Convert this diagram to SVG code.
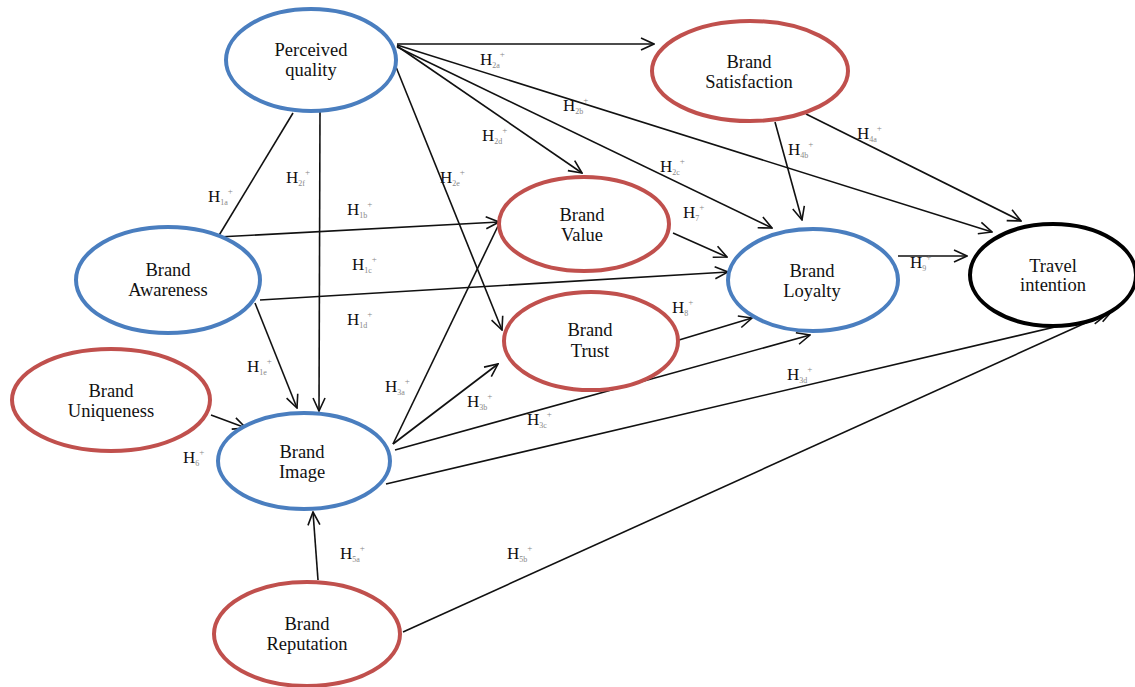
<svg xmlns="http://www.w3.org/2000/svg" width="1135" height="687" viewBox="0 0 1135 687">
<style>
.blue{fill:#fff;stroke:#4a7ebf;stroke-width:4}
.red{fill:#fff;stroke:#c0504d;stroke-width:4}
.black{fill:#fff;stroke:#000;stroke-width:4}
.t{font-family:"Liberation Serif","Times New Roman",serif;font-size:18.5px;fill:#111;text-anchor:middle}
.c line{stroke:#111;stroke-width:1.6;fill:none}
.a{marker-end:url(#arr)}
.h{font-family:"Liberation Serif","Times New Roman",serif;font-size:17px;fill:#111}
.sub{font-size:8px;fill:#888}
.sup{font-size:9px;fill:#888}
</style>
<defs>
<marker id="arr" markerUnits="userSpaceOnUse" markerWidth="16" markerHeight="16" viewBox="-15 -8 16 16" refX="0" refY="0" orient="auto">
<path d="M-13,-6 L0,0 L-13,6" fill="none" stroke="#111" stroke-width="1.6"/>
</marker>
</defs>
<rect width="1135" height="687" fill="#fff"/>
<g class="c">
<line class="a" x1="397" y1="44" x2="654" y2="44"/>
<line class="a" x1="397" y1="45" x2="992" y2="232"/>
<line class="a" x1="397" y1="46" x2="582" y2="173"/>
<line class="a" x1="397" y1="47" x2="772" y2="228"/>
<line class="a" x1="394" y1="62" x2="502" y2="330"/>
<line class="a" x1="320" y1="112" x2="319" y2="411"/>
<line x1="293" y1="113" x2="218" y2="237"/>
<line class="a" x1="218" y1="237" x2="499" y2="222"/>
<line class="a" x1="260" y1="300" x2="728" y2="272"/>
<line class="a" x1="255" y1="303" x2="297" y2="408"/>
<line class="a" x1="211" y1="415" x2="246" y2="428"/>
<line x1="393" y1="444" x2="498" y2="226"/>
<line class="a" x1="393" y1="444" x2="498" y2="364"/>
<line class="a" x1="395" y1="450" x2="810" y2="335"/>
<line class="a" x1="386" y1="484" x2="1106" y2="315"/>
<line class="a" x1="403" y1="632" x2="1112" y2="311"/>
<line class="a" x1="673" y1="233" x2="727" y2="257"/>
<line class="a" x1="679" y1="340" x2="752" y2="318"/>
<line class="a" x1="775" y1="122" x2="802" y2="220"/>
<line class="a" x1="806" y1="114" x2="1021" y2="221"/>
<line class="a" x1="898" y1="256" x2="967" y2="256"/>
<line class="a" x1="318" y1="580" x2="313" y2="512"/>
</g>
<g id="perceived-quality"><ellipse class="blue" cx="311" cy="60" rx="85" ry="51"/><text class="t" x="311" y="56">Perceived</text><text class="t" x="311" y="76">quality</text></g>
<g id="brand-satisfaction"><ellipse class="red" cx="750" cy="71" rx="98" ry="50"/><text class="t" x="749" y="68">Brand</text><text class="t" x="749" y="88">Satisfaction</text></g>
<g id="brand-value"><ellipse class="red" cx="584" cy="224" rx="85" ry="47"/><text class="t" x="582" y="221">Brand</text><text class="t" x="582" y="241">Value</text></g>
<g id="brand-loyalty"><ellipse class="blue" cx="813" cy="280" rx="85" ry="51"/><text class="t" x="812" y="277">Brand</text><text class="t" x="812" y="297">Loyalty</text></g>
<g id="travel-intention"><ellipse class="black" cx="1053" cy="275" rx="83" ry="51"/><text class="t" x="1053" y="272">Travel</text><text class="t" x="1053" y="291">intention</text></g>
<g id="brand-awareness"><ellipse class="blue" cx="168" cy="280" rx="92" ry="53"/><text class="t" x="168" y="276">Brand</text><text class="t" x="168" y="296">Awareness</text></g>
<g id="brand-trust"><ellipse class="red" cx="591" cy="341" rx="87" ry="49"/><text class="t" x="590" y="336">Brand</text><text class="t" x="590" y="357">Trust</text></g>
<g id="brand-uniqueness"><ellipse class="red" cx="111" cy="400" rx="99" ry="51"/><text class="t" x="111" y="397">Brand</text><text class="t" x="111" y="417">Uniqueness</text></g>
<g id="brand-image"><ellipse class="blue" cx="304" cy="461" rx="86" ry="48"/><text class="t" x="302" y="458">Brand</text><text class="t" x="302" y="478">Image</text></g>
<g id="brand-reputation"><ellipse class="red" cx="307" cy="634" rx="93" ry="52"/><text class="t" x="307" y="630">Brand</text><text class="t" x="307" y="650">Reputation</text></g>
<g id="labels">
<text class="h" x="480" y="65">H<tspan class="sub" dy="3">2a</tspan><tspan class="sup" dy="-11">+</tspan></text>
<text class="h" x="563" y="111">H<tspan class="sub" dy="3">2b</tspan><tspan class="sup" dy="-11">+</tspan></text>
<text class="h" x="482" y="141">H<tspan class="sub" dy="3">2d</tspan><tspan class="sup" dy="-11">+</tspan></text>
<text class="h" x="440" y="183">H<tspan class="sub" dy="3">2e</tspan><tspan class="sup" dy="-11">+</tspan></text>
<text class="h" x="660" y="172">H<tspan class="sub" dy="3">2c</tspan><tspan class="sup" dy="-11">+</tspan></text>
<text class="h" x="683" y="218">H<tspan class="sub" dy="3">7</tspan><tspan class="sup" dy="-11">+</tspan></text>
<text class="h" x="788" y="155">H<tspan class="sub" dy="3">4b</tspan><tspan class="sup" dy="-11">+</tspan></text>
<text class="h" x="857" y="139">H<tspan class="sub" dy="3">4a</tspan><tspan class="sup" dy="-11">+</tspan></text>
<text class="h" x="208" y="202">H<tspan class="sub" dy="3">1a</tspan><tspan class="sup" dy="-11">+</tspan></text>
<text class="h" x="286" y="183">H<tspan class="sub" dy="3">2f</tspan><tspan class="sup" dy="-11">+</tspan></text>
<text class="h" x="347" y="215">H<tspan class="sub" dy="3">1b</tspan><tspan class="sup" dy="-11">+</tspan></text>
<text class="h" x="352" y="270">H<tspan class="sub" dy="3">1c</tspan><tspan class="sup" dy="-11">+</tspan></text>
<text class="h" x="347" y="325">H<tspan class="sub" dy="3">1d</tspan><tspan class="sup" dy="-11">+</tspan></text>
<text class="h" x="247" y="372">H<tspan class="sub" dy="3">1e</tspan><tspan class="sup" dy="-11">+</tspan></text>
<text class="h" x="385" y="392">H<tspan class="sub" dy="3">3a</tspan><tspan class="sup" dy="-11">+</tspan></text>
<text class="h" x="467" y="407">H<tspan class="sub" dy="3">3b</tspan><tspan class="sup" dy="-11">+</tspan></text>
<text class="h" x="527" y="425">H<tspan class="sub" dy="3">3c</tspan><tspan class="sup" dy="-11">+</tspan></text>
<text class="h" x="183" y="463">H<tspan class="sub" dy="3">6</tspan><tspan class="sup" dy="-11">+</tspan></text>
<text class="h" x="340" y="559">H<tspan class="sub" dy="3">5a</tspan><tspan class="sup" dy="-11">+</tspan></text>
<text class="h" x="507" y="559">H<tspan class="sub" dy="3">5b</tspan><tspan class="sup" dy="-11">+</tspan></text>
<text class="h" x="910" y="268">H<tspan class="sub" dy="3">9</tspan><tspan class="sup" dy="-11">+</tspan></text>
<text class="h" x="672" y="313">H<tspan class="sub" dy="3">8</tspan><tspan class="sup" dy="-11">+</tspan></text>
<text class="h" x="787" y="380">H<tspan class="sub" dy="3">3d</tspan><tspan class="sup" dy="-11">+</tspan></text>
</g>
</svg>
